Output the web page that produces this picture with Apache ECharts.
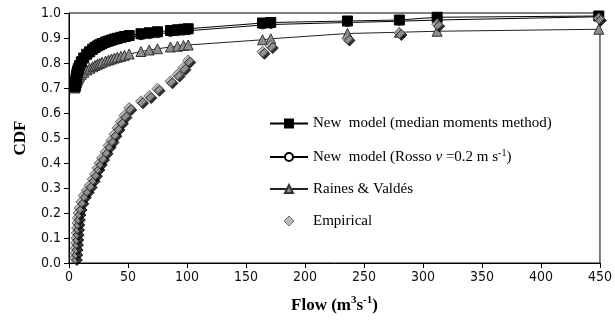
<!DOCTYPE html>
<html>
<head>
<meta charset="utf-8">
<script src="https://cdn.jsdelivr.net/npm/echarts@6/dist/echarts.min.js"></script>
<style>
  html, body { margin: 0; padding: 0; background: #fff; }
  #chart { width: 615px; height: 328px; }
</style>
</head>
<body>
<div id="chart"></div>
<script>
// Observed flows (m3/s) at which each CDF is evaluated
const flows = [5.0, 5.3, 5.6, 5.9, 6.2, 6.5, 6.8, 7.1, 7.5, 8.0, 9.0, 10.5, 12.5, 15, 17.5, 20, 22, 24, 26, 28,
  31, 33.5, 36, 38.5, 41, 44, 47, 51, 61, 68, 75, 86, 92, 97, 101, 164, 171, 236, 280, 312, 449];

// New model, median moments method
const cdfMedian = [0.705, 0.715, 0.725, 0.735, 0.742, 0.75, 0.757, 0.763, 0.77, 0.778, 0.79, 0.805, 0.82, 0.835, 0.845,
  0.855, 0.862, 0.868, 0.873, 0.878, 0.884, 0.888, 0.892, 0.896, 0.899, 0.903, 0.906, 0.91, 0.917, 0.921, 0.925,
  0.93, 0.933, 0.935, 0.937, 0.96, 0.962, 0.968, 0.972, 0.983, 0.988];

// New model, Rosso v = 0.2 m/s
const cdfRosso = [0.702, 0.711, 0.72, 0.729, 0.736, 0.743, 0.75, 0.756, 0.763, 0.771, 0.783, 0.797, 0.812, 0.827, 0.837,
  0.847, 0.854, 0.86, 0.865, 0.87, 0.876, 0.88, 0.884, 0.888, 0.891, 0.895, 0.898, 0.902, 0.909, 0.913, 0.917,
  0.922, 0.925, 0.927, 0.929, 0.952, 0.954, 0.962, 0.967, 0.972, 0.985];

// Raines & Valdés
const cdfRaines = [0.70, 0.705, 0.71, 0.715, 0.72, 0.724, 0.728, 0.732, 0.736, 0.74, 0.747, 0.755, 0.763, 0.772, 0.779,
  0.785, 0.79, 0.795, 0.799, 0.803, 0.808, 0.812, 0.816, 0.82, 0.823, 0.827, 0.831, 0.836, 0.846, 0.852, 0.857,
  0.864, 0.867, 0.87, 0.872, 0.893, 0.897, 0.918, 0.923, 0.927, 0.935];

// Empirical (plotting position)
const cdfEmpirical = [0.02, 0.04, 0.06, 0.08, 0.10, 0.12, 0.14, 0.16, 0.18, 0.20, 0.22, 0.245, 0.27, 0.29, 0.31,
  0.335, 0.355, 0.38, 0.40, 0.42, 0.445, 0.47, 0.49, 0.515, 0.54, 0.565, 0.59, 0.62, 0.647, 0.668, 0.697,
  0.727, 0.754, 0.781, 0.81, 0.845, 0.868, 0.898, 0.92, 0.955, 0.978];

const seriesNames = [
  'New model (median moments method)',
  'New model (Rosso v =0.2 m s-1)',
  'Raines & Valdés',
  'Empirical'
];

const pair = (ys) => flows.map((x, i) => [x, ys[i]]);

const serif = '"Liberation Serif", "DejaVu Serif", serif';
const tickFont = '"DejaVu Sans Condensed", "Liberation Sans Narrow", "DejaVu Sans", sans-serif';

const empiricalStyle = {
  color: '#a9a9a9', borderColor: '#555', borderWidth: 1,
  shadowColor: '#000', shadowBlur: 0, shadowOffsetX: 2, shadowOffsetY: 2
};

const chart = echarts.init(document.getElementById('chart'), null, { renderer: 'canvas' });

chart.setOption({
  animation: false,
  backgroundColor: '#ffffff',
  grid: {
    left: 69, right: 10, top: 13, bottom: 65,
    show: true, borderColor: '#000', borderWidth: 1, backgroundColor: 'transparent'
  },
  legend: {
    orient: 'vertical',
    left: 264, top: 111,
    itemWidth: 38, itemHeight: 10,
    itemGap: 17,
    data: [
      seriesNames[0],
      seriesNames[1],
      seriesNames[2],
      {
        name: seriesNames[3],
        icon: 'path://M5,0L10,5L5,10L0,5Z',
        itemStyle: { color: '#a9a9a9', borderColor: '#555', borderWidth: 1, shadowBlur: 0, shadowOffsetX: 0, shadowOffsetY: 0 }
      }
    ],
    textStyle: {
      fontFamily: serif, fontSize: 15, color: '#000',
      rich: {
        it: { fontFamily: serif, fontSize: 15, fontStyle: 'italic', color: '#000' },
        sup: { fontFamily: serif, fontSize: 10, color: '#000', verticalAlign: 'top', padding: [0, 0, 8, 0] },
        n: { fontFamily: serif, fontSize: 15, color: '#000' }
      }
    },
    formatter: function (name) {
      if (name === seriesNames[1]) {
        return '{n|New  model (Rosso }{it|v}{n| =0.2 m s}{sup|-1}{n|)}';
      }
      if (name === seriesNames[0]) return 'New  model (median moments method)';
      return name;
    }
  },
  xAxis: {
    type: 'value',
    min: 0, max: 450, interval: 50,
    name: 'Flow (m{sup|3}s{sup|-1})',
    nameLocation: 'middle',
    nameGap: 32,
    nameTextStyle: {
      fontFamily: serif, fontSize: 17, fontWeight: 'bold', color: '#000',
      rich: {
        sup: { fontFamily: serif, fontSize: 11, fontWeight: 'bold', color: '#000', verticalAlign: 'top', padding: [0, 0, 10, 0] }
      }
    },
    axisLine: { show: true, lineStyle: { color: '#000', width: 1 } },
    axisTick: { show: true, inside: false, length: 5, lineStyle: { color: '#000' } },
    axisLabel: { fontFamily: tickFont, fontSize: 14, color: '#111', margin: 7 },
    splitLine: { show: false }
  },
  yAxis: {
    type: 'value',
    min: 0, max: 1, interval: 0.1,
    name: 'CDF',
    nameLocation: 'middle',
    nameGap: 40,
    nameRotate: 90,
    nameTextStyle: { fontFamily: serif, fontSize: 17, fontWeight: 'bold', color: '#000' },
    axisLine: { show: true, lineStyle: { color: '#000', width: 1 } },
    axisTick: { show: true, inside: false, length: 5, lineStyle: { color: '#000' } },
    axisLabel: {
      fontFamily: tickFont, fontSize: 14, color: '#111', margin: 8,
      formatter: (v) => v.toFixed(1)
    },
    splitLine: { show: false }
  },
  series: [
    {
      name: seriesNames[1],
      type: 'line',
      data: pair(cdfRosso),
      symbol: 'circle', symbolSize: 8,
      lineStyle: { color: '#000', width: 1 },
      itemStyle: { color: '#fff', borderColor: '#000', borderWidth: 1 },
      z: 2
    },
    {
      name: seriesNames[2],
      type: 'line',
      data: pair(cdfRaines),
      symbol: 'triangle', symbolSize: 10,
      lineStyle: { color: '#222', width: 1 },
      itemStyle: { color: '#8c8c8c', borderColor: '#333', borderWidth: 1 },
      z: 3
    },
    {
      name: seriesNames[0],
      type: 'line',
      data: pair(cdfMedian),
      symbol: 'rect', symbolSize: 10,
      lineStyle: { color: '#000', width: 1 },
      itemStyle: { color: '#000', borderColor: '#000', borderWidth: 1 },
      z: 4
    },
    {
      name: seriesNames[3],
      type: 'scatter',
      data: pair(cdfEmpirical),
      symbol: 'diamond', symbolSize: 11,
      itemStyle: empiricalStyle,
      z: 5
    }
  ]
});
</script>
</body>
</html>
